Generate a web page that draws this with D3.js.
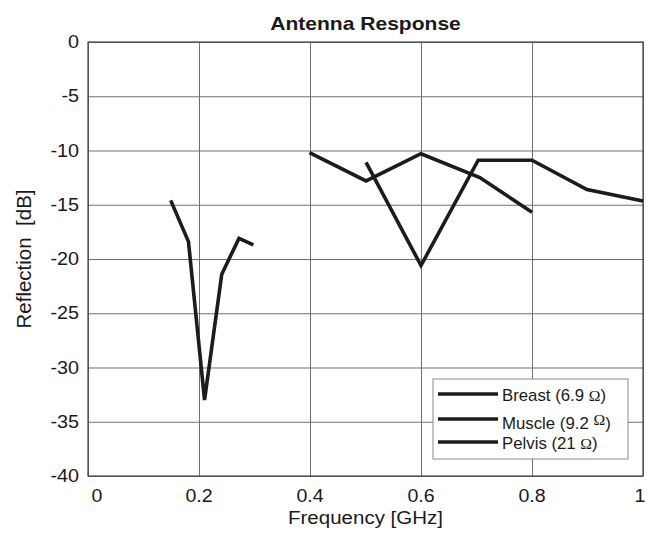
<!DOCTYPE html>
<html>
<head>
<meta charset="utf-8">
<script src="https://cdn.jsdelivr.net/npm/d3@7"></script>
<style>
  body { margin: 0; background: #fff; }
  svg { display: block; font-family: "Liberation Sans", Arial, sans-serif; }
</style>
</head>
<body>
<svg width="647" height="534"></svg>
<script>
// values
var freqA = [0.149, 0.181, 0.21, 0.241, 0.272, 0.298],
    reflA = [-14.6, -18.4, -33.0, -21.4, -18.1, -18.7]
var freqB = [0.399, 0.501, 0.6, 0.706, 0.8],
    reflB = [-10.2, -12.8, -10.3, -12.5, -15.7]
var freqC = [0.501, 0.6, 0.703, 0.8, 0.899, 1.0],
    reflC = [-11.1, -20.6, -10.9, -10.9, -13.6, -14.65]

var xTicks = [0, 0.2, 0.4, 0.6, 0.8, 1]
var yTicks = [0, -5, -10, -15, -20, -25, -30, -35, -40]
var legendNames = ["Breast (6.9 ", "Muscle (9.2 ", "Pelvis (21 "]

// plot box (window.top is reserved, so no plain "top")
var boxL = 88, boxR = 643, boxT = 42, boxB = 476

var svg = d3.select("svg")

var x = d3.scaleLinear().domain([0, 1]).range([boxL, boxR])
var y = d3.scaleLinear().domain([-40, 0]).range([boxB, boxT])

// stretched text, the original picture is a bit wide
function label(g, tx, ty, str, size, sx, anchor) {
    return g.append("text")
        .attr("transform", "translate(" + tx + "," + ty + ") scale(" + sx + ",1)")
        .attr("text-anchor", anchor)
        .attr("font-size", size)
        .attr("fill", "#1a1a1a")
        .text(str)
}

// grid
svg.append("g")
    .attr("transform", "translate(0," + boxB + ")")
    .call(d3.axisBottom(x).tickValues(xTicks).tickSize(-(boxB - boxT)).tickFormat(""))
    .call(g => g.select(".domain").remove())
    .selectAll("line").attr("stroke", "#707070")

svg.append("g")
    .attr("transform", "translate(" + boxL + ",0)")
    .call(d3.axisLeft(y).tickValues(yTicks).tickSize(-(boxR - boxL)).tickFormat(""))
    .call(g => g.select(".domain").remove())
    .selectAll("line").attr("stroke", "#707070")

// frame
svg.append("rect")
    .attr("x", boxL).attr("y", boxT)
    .attr("width", boxR - boxL).attr("height", boxB - boxT)
    .attr("fill", "none").attr("stroke", "#444").attr("stroke-width", 1.2)

// tick labels (the end ones sit a little inward in the original)
var tl = svg.append("g")
xTicks.forEach(function (t) {
    var nudge = t == 0 ? 9 : (t == 1 ? -3 : 0)
    label(tl, x(t) + nudge, boxB + 26, d3.format("~g")(t), 17.5, 1.12, "middle")
})
yTicks.forEach(function (t) {
    label(tl, boxL - 9, y(t) + 6, String(t), 18, 1.1, "end")
})

// titles
label(svg, (boxL + boxR) / 2, 30, "Antenna Response", 18, 1.17, "middle").attr("font-weight", "bold")
label(svg, (boxL + boxR) / 2, 524, "Frequency [GHz]", 19, 1.08, "middle")
svg.append("text")
    .attr("transform", "translate(31," + ((boxT + boxB) / 2) + ") rotate(-90)")
    .attr("text-anchor", "middle")
    .attr("font-size", 20.5)
    .attr("fill", "#1a1a1a")
    .style("white-space", "pre")
    .text("Reflection  [dB]")

// lines
var line = d3.line()
    .x(d => x(d[0]))
    .y(d => y(d[1]))

var series = [
    d3.zip(freqA, reflA),
    d3.zip(freqB, reflB),
    d3.zip(freqC, reflC)
]

svg.append("g").selectAll("path")
    .data(series)
    .enter()
    .append("path")
    .attr("d", line)
    .attr("fill", "none")
    .attr("stroke", "#1c1c1c")
    .attr("stroke-width", 3.6)
    .attr("stroke-linejoin", "miter")

// legend
var lg = svg.append("g")
lg.append("rect")
    .attr("x", 433).attr("y", 379)
    .attr("width", 195).attr("height", 80)
    .attr("fill", "#fff").attr("stroke", "#8a8a8a")

var rowY = [394, 419, 442]
var omegaDy = [0, -4, 0]
legendNames.forEach(function (name, i) {
    lg.append("line")
        .attr("x1", 438).attr("x2", 498)
        .attr("y1", rowY[i]).attr("y2", rowY[i])
        .attr("stroke", "#1c1c1c").attr("stroke-width", 3.6)
    var t = label(lg, 502, rowY[i] + (i == 1 ? 10 : 7), "", 16, 1.05, "start")
    t.append("tspan").style("white-space", "pre").text(name)
    t.append("tspan")
        .attr("font-family", "'Liberation Serif', 'DejaVu Serif', serif")
        .attr("font-size", 15)
        .attr("dy", omegaDy[i])
        .text("\u03A9")
    t.append("tspan").attr("dy", -omegaDy[i]).text(")")
})
</script>
</body>
</html>
